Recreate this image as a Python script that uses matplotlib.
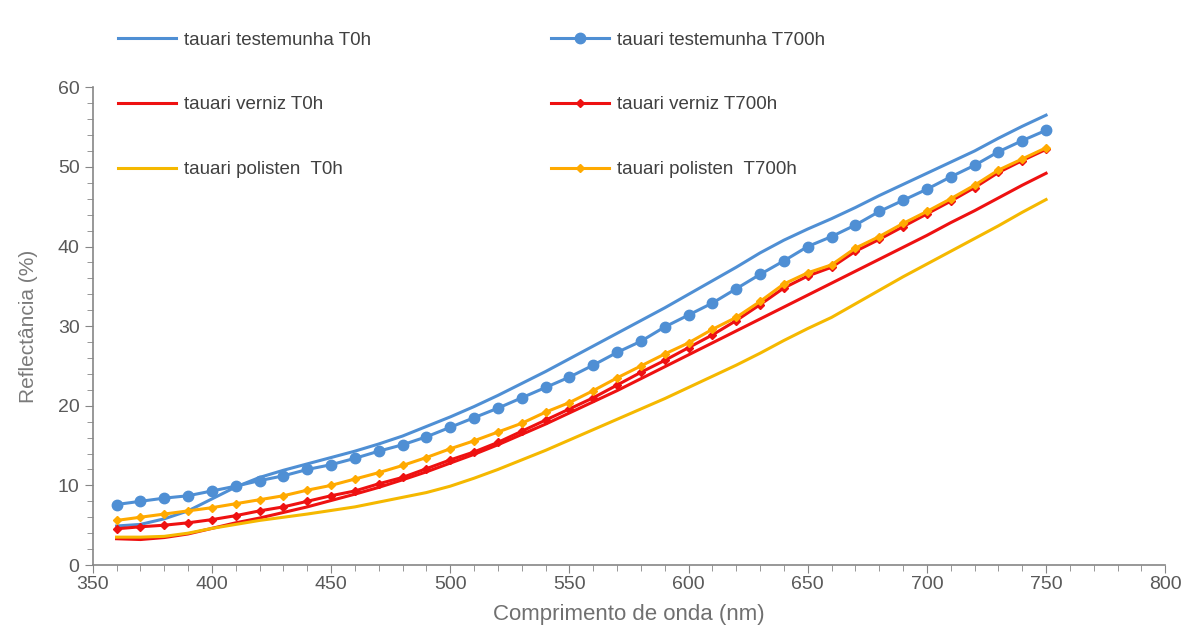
import matplotlib
matplotlib.use("Agg")
import matplotlib.pyplot as plt
from matplotlib.ticker import MultipleLocator

wavelength = list(range(360, 751, 10))

testemunha_T0h = [4.9, 5.1, 5.8, 6.8, 8.3, 9.8, 11.0, 11.9, 12.7, 13.5,
                  14.3, 15.2, 16.2, 17.4, 18.6, 19.9, 21.3, 22.8, 24.3, 25.9,
                  27.5, 29.1, 30.7, 32.3, 34.0, 35.7, 37.4, 39.2, 40.8, 42.2,
                  43.5, 44.9, 46.4, 47.8, 49.2, 50.6, 52.0, 53.6, 55.1, 56.5]
testemunha_T700h = [7.6, 8.0, 8.4, 8.7, 9.3, 9.9, 10.6, 11.2, 12.0, 12.6,
                    13.4, 14.3, 15.1, 16.1, 17.3, 18.5, 19.7, 21.0, 22.3, 23.6,
                    25.1, 26.7, 28.1, 29.9, 31.4, 32.9, 34.7, 36.5, 38.2, 40.0,
                    41.25, 42.7, 44.4, 45.8, 47.2, 48.75, 50.2, 51.9, 53.3, 54.6]
verniz_T0h = [3.3, 3.2, 3.45, 3.9, 4.6, 5.3, 5.9, 6.6, 7.3, 8.1,
              8.9, 9.75, 10.7, 11.7, 12.8, 13.9, 15.1, 16.4, 17.7, 19.1,
              20.5, 21.9, 23.4, 24.9, 26.4, 27.9, 29.4, 30.9, 32.4, 33.9,
              35.4, 36.9, 38.4, 39.9, 41.4, 43.0, 44.5, 46.1, 47.7, 49.2]
verniz_T700h = [4.55, 4.8, 5.0, 5.3, 5.7, 6.2, 6.8, 7.3, 8.0, 8.7,
                9.3, 10.2, 11.0, 12.1, 13.2, 14.2, 15.4, 16.8, 18.2, 19.6,
                21.0, 22.6, 24.2, 25.7, 27.3, 28.9, 30.7, 32.7, 34.8, 36.3,
                37.4, 39.4, 40.9, 42.5, 44.1, 45.7, 47.4, 49.3, 50.8, 52.2]
polisten_T0h = [3.5, 3.5, 3.6, 4.0, 4.6, 5.1, 5.6, 6.0, 6.4, 6.85,
                7.3, 7.9, 8.5, 9.1, 9.9, 10.9, 12.0, 13.2, 14.4, 15.7,
                17.0, 18.3, 19.6, 20.9, 22.3, 23.7, 25.1, 26.6, 28.2, 29.7,
                31.1, 32.8, 34.5, 36.2, 37.8, 39.4, 41.0, 42.6, 44.3, 45.9]
polisten_T700h = [5.6, 6.0, 6.4, 6.8, 7.2, 7.7, 8.2, 8.7, 9.4, 10.0,
                  10.8, 11.6, 12.5, 13.5, 14.6, 15.6, 16.7, 17.8, 19.2, 20.4,
                  21.9, 23.5, 25.0, 26.5, 27.9, 29.6, 31.1, 33.1, 35.3, 36.7,
                  37.7, 39.8, 41.25, 42.9, 44.4, 46.0, 47.7, 49.6, 51.0, 52.4]

labels = ["tauari testemunha T0h", "tauari testemunha T700h",
          "tauari verniz T0h", "tauari verniz T700h",
          "tauari polisten  T0h", "tauari polisten  T700h"]

BLUE = "#4F8FD4"
RED = "#EE1111"
YEL = "#F5B800"
ORA = "#FFAA00"
GRAY = "#595959"

plt.rcParams['font.family'] = ['Liberation Sans', 'DejaVu Sans']

fig = plt.figure(figsize=(11.89, 6.28), dpi=100)
ax = fig.add_axes([0.078, 0.1003, 0.902, 0.7607])

l1, = ax.plot(wavelength, testemunha_T0h, color=BLUE, lw=2.2)
l2, = ax.plot(wavelength, testemunha_T700h, color=BLUE, lw=2.2, marker='o', markersize=7.5)
l3, = ax.plot(wavelength, verniz_T0h, color=RED, lw=2.2)
l4, = ax.plot(wavelength, verniz_T700h, color=RED, lw=2.2, marker='D', markersize=4.5)
l5, = ax.plot(wavelength, polisten_T0h, color=YEL, lw=2.2)
l6, = ax.plot(wavelength, polisten_T700h, color=ORA, lw=2.2, marker='D', markersize=4.5)

ax.set_xlim(350, 800)
ax.set_ylim(0, 60)
ax.xaxis.set_major_locator(MultipleLocator(50))
ax.xaxis.set_minor_locator(MultipleLocator(10))
ax.yaxis.set_major_locator(MultipleLocator(10))
ax.yaxis.set_minor_locator(MultipleLocator(2))
for s in ['top', 'right']:
    ax.spines[s].set_visible(False)
for s in ['left', 'bottom']:
    ax.spines[s].set_color('#868686')
    ax.spines[s].set_linewidth(1.2)
ax.tick_params(which='major', direction='out', length=6, color='#868686',
               labelcolor=GRAY, labelsize=14)
ax.tick_params(axis='x', which='major', pad=2)
ax.tick_params(which='minor', direction='out', length=4, color='#868686')
ax.set_xlabel("Comprimento de onda (nm)", fontsize=16, color='#707070', labelpad=8)
ax.set_ylabel("Reflectância (%)", fontsize=15, color='#7a7a7a', labelpad=14)

leg_kw = dict(loc='upper left', frameon=False, fontsize=13.5, handlelength=3.1,
              handletextpad=0.45, borderpad=0, borderaxespad=0,
              labelspacing=2.55, labelcolor='#404040')
leg1 = fig.legend([l1, l3, l5], [labels[0], labels[2], labels[4]],
                  bbox_to_anchor=(0.099, 0.950), **leg_kw)
leg2 = fig.legend([l2, l4, l6], [labels[1], labels[3], labels[5]],
                  bbox_to_anchor=(0.463, 0.950), **leg_kw)

fig.savefig("out.png", dpi=100)
